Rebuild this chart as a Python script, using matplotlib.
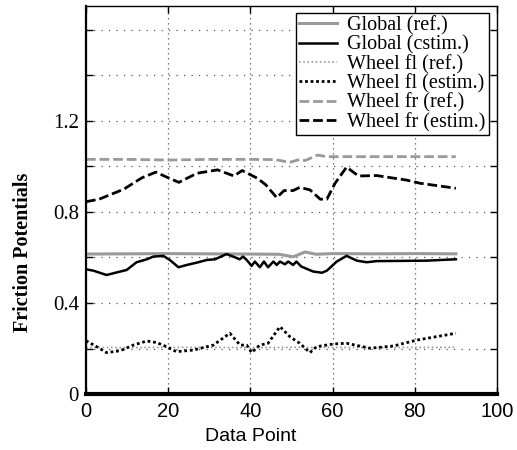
import matplotlib.pyplot as plt
from matplotlib.ticker import MultipleLocator, FuncFormatter

# values
glob_ref_x = [0, 10, 20, 30, 40, 47, 50.4, 53.3, 56, 60, 70, 80, 90]
glob_ref_y = [0.615, 0.616, 0.617, 0.616, 0.615, 0.614, 0.603, 0.624, 0.614, 0.617, 0.616, 0.617, 0.616]

glob_est_x = [0, 1.8, 5, 8.3, 9.9, 12.3, 14.8, 16.4, 18.8, 20.4, 22.5, 24.5, 26.9, 29.4,
              31.4, 34.2, 35.8, 37.4, 38.2, 39.1, 40.3, 41.1, 42.3, 43.3, 44.3, 45.6,
              46.4, 47.2, 48.4, 49.2, 50.4, 51.2, 52.4, 55.3, 57.4, 58.6, 61, 63.4,
              65.9, 68.3, 70.7, 82.9, 90]
glob_est_y = [0.548, 0.542, 0.523, 0.538, 0.545, 0.579, 0.592, 0.604, 0.607, 0.589,
              0.557, 0.567, 0.577, 0.589, 0.592, 0.615, 0.604, 0.592, 0.604, 0.589,
              0.563, 0.582, 0.557, 0.582, 0.557, 0.582, 0.567, 0.582, 0.570, 0.582,
              0.567, 0.582, 0.560, 0.538, 0.533, 0.542, 0.582, 0.607, 0.586, 0.579,
              0.584, 0.586, 0.592]

fl_ref_x = [0, 10, 20, 30, 40, 50, 60, 70, 80, 90]
fl_ref_y = [0.205, 0.204, 0.205, 0.205, 0.204, 0.205, 0.205, 0.204, 0.205, 0.205]

fl_est_x = [0, 2.6, 5, 8.3, 11.5, 14.8, 17.2, 19.6, 22, 26.1, 31, 35, 37.5, 39.1, 40.3,
            42.3, 44.3, 47.2, 49.6, 52, 54.5, 56.1, 60.2, 63.4, 69.1, 74.8, 80.5, 90]
fl_est_y = [0.234, 0.208, 0.182, 0.190, 0.215, 0.233, 0.226, 0.208, 0.186, 0.193, 0.215,
            0.267, 0.215, 0.215, 0.182, 0.215, 0.223, 0.296, 0.252, 0.223, 0.182, 0.208,
            0.220, 0.223, 0.201, 0.211, 0.237, 0.267]

fr_ref_x = [0, 10, 20, 30, 40, 46, 49.6, 52, 53.3, 56.4, 58.5, 70, 80, 90]
fr_ref_y = [1.031, 1.031, 1.028, 1.031, 1.031, 1.030, 1.018, 1.031, 1.026, 1.050, 1.043,
            1.043, 1.043, 1.043]

fr_est_x = [0, 3.2, 9.2, 13.6, 17, 19.4, 22.6, 27, 32, 36, 38, 41.7, 43.7, 46.4, 48.2,
            50.4, 52, 54.5, 57, 58.6, 60.6, 63.4, 66.3, 70.7, 78, 81.3, 90]
fr_est_y = [0.845, 0.856, 0.900, 0.950, 0.975, 0.955, 0.930, 0.970, 0.985, 0.958, 0.982,
            0.948, 0.920, 0.863, 0.894, 0.894, 0.908, 0.897, 0.856, 0.856, 0.926, 0.997,
            0.958, 0.960, 0.940, 0.926, 0.904]

gray = '#9a9a9a'
serif = 'Liberation Serif'
sans = 'Liberation Sans'

fig = plt.figure(figsize=(5.17, 4.5), dpi=100)
ax = fig.add_axes([0.1663, 0.1244, 0.795, 0.8623])

ax.plot(glob_ref_x, glob_ref_y, color=gray, lw=2.2, label='Global (ref.)')
ax.plot(glob_est_x, glob_est_y, color='k', lw=1.8, label='Global (cstim.)')
ax.plot(fl_ref_x, fl_ref_y, color=gray, lw=1.2, ls=(0, (1, 1.5)), label='Wheel fl (ref.)')
ax.plot(fl_est_x, fl_est_y, color='k', lw=2.0, ls=(0, (1, 1)), label='Wheel fl (estim.)')
ax.plot(fr_ref_x, fr_ref_y, color=gray, lw=2.0, ls=(0, (3.5, 1.4)), label='Wheel fr (ref.)')
ax.plot(fr_est_x, fr_est_y, color='k', lw=2.0, ls=(0, (3.5, 1.4)), label='Wheel fr (estim.)')

ax.set_xlim(0, 100)
ax.set_ylim(0, 1.705)
ax.xaxis.set_major_locator(MultipleLocator(20))
ax.yaxis.set_major_locator(MultipleLocator(0.2))
ax.yaxis.set_major_formatter(FuncFormatter(
    lambda v, p: ('0' if abs(v) < 1e-6 else f'{v:.1f}') if round(v / 0.2) in (0, 2, 4, 6) else ''))

ax.xaxis.grid(True, color='#555555', ls=(0, (1, 3)), lw=0.9)
ax.yaxis.grid(True, color='#555555', ls=(0, (1, 5)), lw=0.9)
ax.tick_params(direction='in', length=5, width=1, top=True, right=True)
for lab in ax.get_xticklabels():
    lab.set_fontfamily(sans)
    lab.set_fontsize(14.5)
for lab in ax.get_yticklabels():
    lab.set_fontfamily(serif)
    lab.set_fontsize(15)
ax.tick_params(axis='x', pad=6)
ax.tick_params(axis='y', pad=5)

ax.spines['bottom'].set_linewidth(3)
ax.spines['left'].set_linewidth(1.6)
ax.spines['top'].set_linewidth(1.0)
ax.spines['right'].set_linewidth(1.0)

ax.set_xlabel('Data Point', fontfamily=sans, fontsize=14)
ax.set_ylabel('Friction Potentials', fontfamily=serif, fontsize=14.5, fontweight='bold')
ax.xaxis.set_label_coords(0.40, -0.088)
ax.yaxis.set_label_coords(-0.129, 0.366)

leg = ax.legend(loc='upper right', bbox_to_anchor=(0.98, 0.982), borderaxespad=0,
                prop={'family': serif, 'size': 14.5}, fancybox=False, framealpha=1,
                edgecolor='k', labelspacing=0.0, handlelength=1.9, handletextpad=0.5,
                borderpad=0.15)
leg.get_frame().set_linewidth(1.0)

fig.savefig('out.png', dpi=100)
